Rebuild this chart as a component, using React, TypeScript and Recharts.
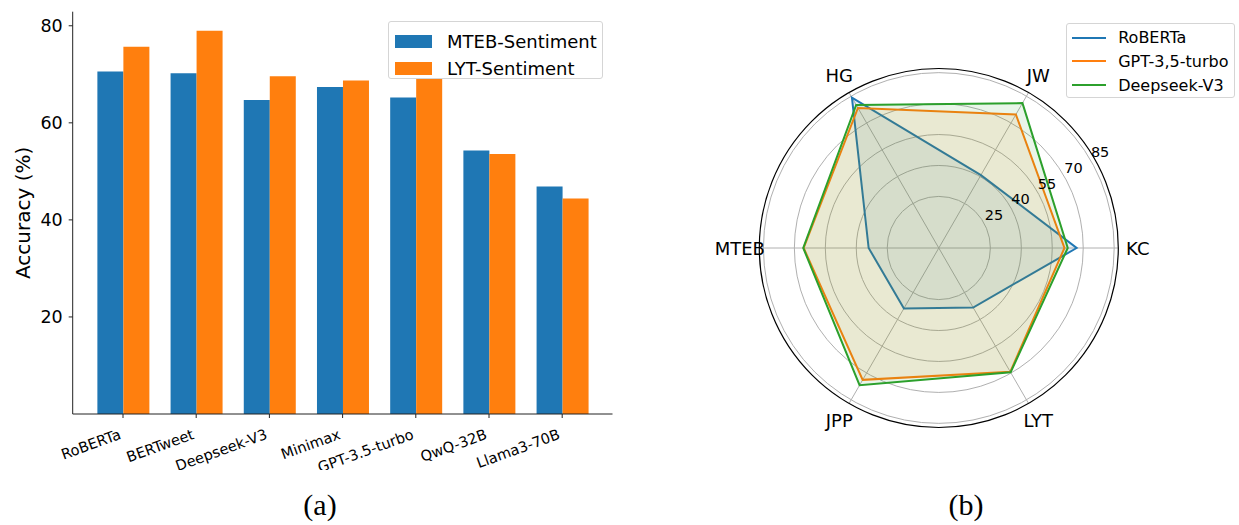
import {
  Bar,
  BarChart,
  Legend,
  PolarAngleAxis,
  PolarGrid,
  PolarRadiusAxis,
  Radar,
  RadarChart,
  XAxis,
  YAxis,
} from "recharts";

// (a) bar chart
const models = ["RoBERTa", "BERTweet", "Deepseek-V3", "Minimax", "GPT-3.5-turbo", "QwQ-32B", "Llama3-70B"];
const mtebSentiment = [70.6, 70.2, 64.7, 67.4, 65.2, 54.3, 46.9];
const lytSentiment = [75.7, 79.0, 69.6, 68.7, 69.2, 53.6, 44.4];
const accuracyTicks = [20, 40, 60, 80];

// (b) radar chart, datasets listed clockwise starting from the right
const datasets = ["KC", "LYT", "JPP", "MTEB", "HG", "JW"];
const robertaScores = [66.8, 33.3, 33.8, 34.0, 84.2, 40.8];
const gptScores = [60.9, 69.3, 73.8, 65.5, 78.4, 74.7];
const deepseekScores = [62.5, 69.6, 76.8, 65.7, 80.1, 81.1];
const radiusTicks = [25, 40, 55, 70, 85];

const blue = "#1f77b4";
const orange = "#ff7f0e";
const green = "#2ca02c";
const font = "'DejaVu Sans', sans-serif";

const barData = models.map((model, i) => ({
  model,
  mteb: mtebSentiment[i],
  lyt: lytSentiment[i],
}));

const radarData = datasets.map((name, i) => ({
  name,
  roberta: robertaScores[i],
  gpt: gptScores[i],
  deepseek: deepseekScores[i],
}));

const barSeries = [
  { label: "MTEB-Sentiment", color: blue },
  { label: "LYT-Sentiment", color: orange },
];

const radarSeries = [
  { key: "roberta", label: "RoBERTa", color: blue },
  { key: "gpt", label: "GPT-3,5-turbo", color: orange },
  { key: "deepseek", label: "Deepseek-V3", color: green },
];

function ModelTick(props: any) {
  const { x, y, payload } = props;
  return (
    <g transform={`translate(${x - 5},${y + 8}) rotate(-20)`}>
      <text textAnchor="end" dy="0.76em" fontSize={14.6} fill="#000" fontFamily={font}>
        {payload.value}
      </text>
    </g>
  );
}

function AccuracyLabel(props: any) {
  const vb = props.viewBox ?? { x: 0, y: 11.7, width: 72.7, height: 402.3 };
  const cx = vb.x + 23;
  const cy = vb.y + vb.height / 2;
  return (
    <text
      x={cx}
      y={cy}
      transform={`rotate(-90, ${cx}, ${cy})`}
      textAnchor="middle"
      dominantBaseline="central"
      fontSize={20}
      fill="#000"
      fontFamily={font}
    >
      Accuracy (%)
    </text>
  );
}

function BarLegend() {
  return (
    <div
      style={{
        boxSizing: "border-box",
        width: "100%",
        height: "100%",
        border: "1px solid #d5d5d5",
        borderRadius: 3,
        background: "rgba(255,255,255,0.8)",
        padding: "6px 0 0 6px",
        fontFamily: font,
        fontSize: 18,
      }}
    >
      {barSeries.map((s) => (
        <div key={s.label} style={{ display: "flex", alignItems: "center", height: 27.4 }}>
          <span style={{ width: 37, height: 12.7, background: s.color, marginRight: 15 }} />
          <span>{s.label}</span>
        </div>
      ))}
    </div>
  );
}

function AngleTick(props: any) {
  const { x, y, payload } = props;
  return (
    <text x={x} y={y} textAnchor="middle" dominantBaseline="central" fontSize={18} fill="#000" fontFamily={font}>
      {payload.value}
    </text>
  );
}

function RadiusTick(props: any) {
  const { x, y, payload } = props;
  return (
    <text
      x={x + 11}
      y={y - 6}
      textAnchor="middle"
      dominantBaseline="central"
      fontSize={14.5}
      fill="#000"
      fontFamily={font}
    >
      {payload.value}
    </text>
  );
}

function RadarLegend() {
  return (
    <div
      style={{
        boxSizing: "border-box",
        width: "100%",
        height: "100%",
        border: "1px solid #d5d5d5",
        borderRadius: 3,
        background: "rgba(255,255,255,0.8)",
        padding: "2px 0 0 5px",
        fontFamily: font,
        fontSize: 16,
      }}
    >
      {radarSeries.map((s) => (
        <div key={s.key} style={{ display: "flex", alignItems: "center", height: 23.8 }}>
          <span style={{ width: 34, height: 2, background: s.color, marginRight: 12.5 }} />
          <span>{s.label}</span>
        </div>
      ))}
    </div>
  );
}

export default function App() {
  return (
    <div style={{ position: "relative", width: 1239, height: 525, background: "#fff", fontFamily: font }}>
      <style>{"body{margin:0}"}</style>

      <div style={{ position: "absolute", left: 0, top: 0 }}>
        <BarChart
          width={640}
          height={470}
          data={barData}
          margin={{ top: 11.7, right: 27.5, bottom: 0, left: 0 }}
          barCategoryGap="15%"
          barGap={0}
        >
          <XAxis
            dataKey="model"
            height={56}
            padding={{ left: 13.7, right: 13.7 }}
            interval={0}
            tickSize={4}
            tickMargin={2}
            axisLine={{ stroke: "#222" }}
            tickLine={{ stroke: "#222" }}
            tick={<ModelTick />}
          />
          <XAxis
            xAxisId="top"
            orientation="top"
            dataKey="model"
            height={0}
            tick={false}
            tickLine={false}
            axisLine={{ stroke: "#222" }}
          />
          <YAxis
            width={72.7}
            domain={[0, 82.9]}
            ticks={accuracyTicks}
            tickSize={4}
            tickMargin={6}
            axisLine={{ stroke: "#222" }}
            tickLine={{ stroke: "#222" }}
            tick={{ fontSize: 17.5, fill: "#000", fontFamily: font }}
            label={(p: any) => <AccuracyLabel {...p} />}
          />
          <YAxis
            yAxisId="right"
            orientation="right"
            width={0}
            domain={[0, 82.9]}
            tick={false}
            tickLine={false}
            axisLine={{ stroke: "#222" }}
          />
          <Bar dataKey="mteb" name="MTEB-Sentiment" fill={blue} isAnimationActive={false} />
          <Bar dataKey="lyt" name="LYT-Sentiment" fill={orange} isAnimationActive={false} />
          <Legend
            layout="vertical"
            align="center"
            verticalAlign="middle"
            wrapperStyle={{ position: "absolute", left: 388, top: 20.7, width: 214.7, height: 58.6 }}
            content={() => <BarLegend />}
          />
        </BarChart>
      </div>

      <div style={{ position: "absolute", left: 700, top: 0 }}>
        <RadarChart
          width={539}
          height={470}
          data={radarData}
          cx={238.8}
          cy={248}
          innerRadius={0}
          outerRadius={179.5}
          startAngle={0}
          endAngle={-360}
          margin={{ top: 0, right: 0, bottom: 0, left: 0 }}
        >
          <PolarGrid gridType="circle" stroke="#b0b0b0" strokeWidth={1} />
          <PolarAngleAxis
            dataKey="name"
            axisLineType="circle"
            axisLine={{ stroke: "#000", strokeWidth: 1.2 }}
            tickLine={false}
            tickSize={19.5}
            tick={<AngleTick />}
          />
          <PolarRadiusAxis
            angle={31}
            domain={[0, 86.6]}
            ticks={radiusTicks}
            axisLine={false}
            tickLine={false}
            tick={<RadiusTick />}
          />
          {radarSeries.map((s) => (
            <Radar
              key={s.key}
              dataKey={s.key}
              name={s.label}
              stroke={s.color}
              strokeWidth={2}
              fill={s.color}
              fillOpacity={0.1}
              dot={false}
              isAnimationActive={false}
            />
          ))}
          <Legend
            layout="vertical"
            align="center"
            verticalAlign="middle"
            wrapperStyle={{ position: "absolute", left: 365.7, top: 22.7, width: 169.3, height: 75.6 }}
            content={() => <RadarLegend />}
          />
        </RadarChart>
      </div>

      <svg width={1239} height={525} style={{ position: "absolute", left: 0, top: 0, pointerEvents: "none" }}>
        <text x={320} y={515} textAnchor="middle" fontSize={30} fontFamily="'Liberation Serif', serif" fill="#000">
          (a)
        </text>
        <text x={966} y={515} textAnchor="middle" fontSize={30} fontFamily="'Liberation Serif', serif" fill="#000">
          (b)
        </text>
      </svg>
    </div>
  );
}
